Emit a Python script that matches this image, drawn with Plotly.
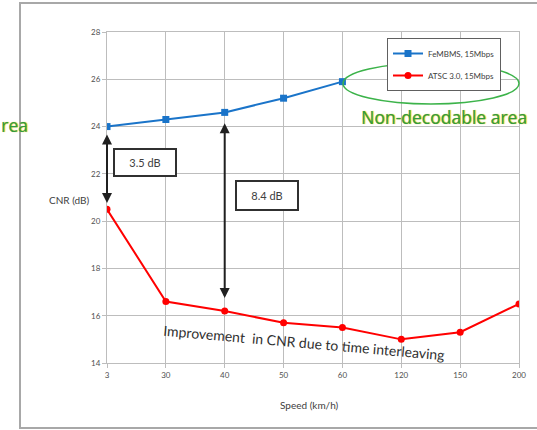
import plotly.graph_objects as go

speeds = ["3", "30", "40", "50", "60", "120", "150", "200"]
fembms_cnr = [24.0, 24.3, 24.6, 25.2, 25.9]
atsc_cnr = [20.5, 16.6, 16.2, 15.7, 15.5, 15.0, 15.3, 16.5]

pos = list(range(len(speeds)))  # category slots on the x axis

W, H = 537, 430
L, R, T, B = 107, 18, 32, 67
pw, ph = W - L - R, H - T - B

def px(x):
    return (x - L) / pw

def py(y):
    return (H - B - y) / ph

fig = go.Figure()
fig.add_trace(go.Scatter(x=pos[:len(fembms_cnr)], y=fembms_cnr, mode="lines+markers",
                         name="FeMBMS, 15Mbps", legendgroup="a",
                         line=dict(color="#1a74c9", width=2),
                         marker=dict(symbol="square", size=7, color="#1a74c9")))
fig.add_trace(go.Scatter(x=pos, y=atsc_cnr, mode="lines+markers",
                         name="ATSC 3.0, 15Mbps", legendgroup="b",
                         line=dict(color="#ff0000", width=2),
                         marker=dict(symbol="circle", size=7, color="#ff0000")))

font = "Lato, Open Sans, sans-serif"
grid = "#bdbdbd"
fig.update_layout(
    width=W, height=H, margin=dict(l=L, r=R, t=T, b=B),
    paper_bgcolor="white", plot_bgcolor="white",
    font=dict(family=font, color="#404040"),
    showlegend=True,
    legend=dict(x=px(387), y=py(38), xanchor="left", yanchor="top",
                bgcolor="white", bordercolor="#606060", borderwidth=1,
                font=dict(size=8, color="#404040"), tracegroupgap=3,
                itemwidth=30),
    xaxis=dict(range=[0, len(speeds) - 1], tickvals=pos, ticktext=speeds,
               showgrid=True, gridcolor=grid, gridwidth=1.2,
               showline=True, linecolor=grid, linewidth=1.2, mirror=True,
               ticks="outside", ticklen=4, tickcolor=grid,
               tickfont=dict(size=8, color="#505050"), zeroline=False),
    yaxis=dict(range=[14, 28], dtick=2, showgrid=True, gridcolor=grid, gridwidth=1.2,
               showline=True, linecolor=grid, linewidth=1.2, mirror=True,
               ticks="outside", ticklen=4, tickcolor=grid,
               tickfont=dict(size=8, color="#505050"), zeroline=False),
)

# outer frame
fig.add_shape(type="rect", xref="paper", yref="paper",
              x0=px(20), x1=px(545), y0=py(428), y1=py(3),
              line=dict(color="#a8a8a8", width=2), layer="below")
# ellipse
fig.add_shape(type="circle", xref="paper", yref="paper",
              x0=px(343), x1=px(519), y0=py(104), y1=py(63),
              line=dict(color="#3cb34a", width=1.5))

ann = []
# double arrows
ann.append(dict(x=pos[0], y=20.77, ax=pos[0], ay=23.73, xref="x", yref="y", axref="x", ayref="y",
                text="", showarrow=True, arrowhead=2, arrowside="end+start",
                arrowwidth=2, arrowsize=1, arrowcolor="#202020"))
ann.append(dict(x=pos[2], y=16.75, ax=pos[2], ay=24.2, xref="x", yref="y", axref="x", ayref="y",
                text="", showarrow=True, arrowhead=2, arrowside="end+start",
                arrowwidth=2, arrowsize=1, arrowcolor="#202020"))
# boxes
ann.append(dict(x=px(145), y=py(162.5), xref="paper", yref="paper", text="3.5 dB",
                xanchor="center", yanchor="middle",
                showarrow=False, width=58, height=23, bordercolor="#303030", borderwidth=2,
                bgcolor="white", font=dict(size=11, color="#404040")))
ann.append(dict(x=px(267), y=py(195.5), xref="paper", yref="paper", text="8.4 dB",
                xanchor="center", yanchor="middle",
                showarrow=False, width=58, height=25, bordercolor="#303030", borderwidth=2,
                bgcolor="white", font=dict(size=11, color="#404040")))
# texts
ann.append(dict(x=px(359), y=py(117), xref="paper", yref="paper", xanchor="left", yanchor="middle",
                text="Non-decodable area", showarrow=False,
                font=dict(size=17.5, color="#2f9a45", family="Open Sans, sans-serif",
                          shadow="1px 0px 1px #d8c000")))
ann.append(dict(x=px(30), y=py(125), xref="paper", yref="paper", xanchor="right", yanchor="middle",
                text="rea", showarrow=False,
                font=dict(size=17.5, color="#2f9a45", family="Open Sans, sans-serif",
                          shadow="1px 0px 1px #d8c000")))
ann.append(dict(x=px(92), y=py(200), xref="paper", yref="paper", xanchor="right", yanchor="middle",
                text="CNR (dB)", showarrow=False, font=dict(size=10, color="#404040")))
ann.append(dict(x=px(309), y=py(405), xref="paper", yref="paper", xanchor="center", yanchor="middle",
                text="Speed (km/h)", showarrow=False, font=dict(size=10, color="#404040")))
ann.append(dict(x=px(304), y=py(342), xref="paper", yref="paper", xanchor="center", yanchor="middle",
                text="Improvement  in CNR due to time interleaving", showarrow=False,
                textangle=5, font=dict(size=14, color="#303030")))
fig.update_layout(annotations=ann)

fig.write_html("out.html")
